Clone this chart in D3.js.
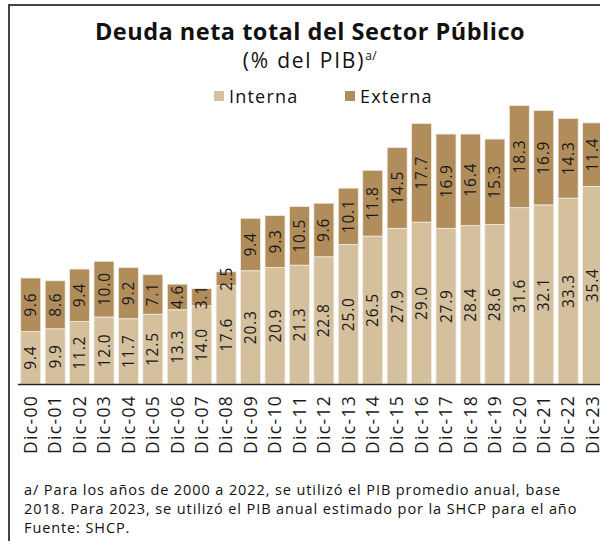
<!DOCTYPE html>
<html>
<head>
<meta charset="utf-8">
<script src="https://cdn.jsdelivr.net/npm/d3@7"></script>
<style>
  html, body { margin: 0; padding: 0; background: #fff; }
  svg { display: block; font-family: "Open Sans", "DejaVu Sans", sans-serif; }
</style>
</head>
<body>
<svg id="chart" width="600" height="541"></svg>
<script>
const categories = ["Dic-00","Dic-01","Dic-02","Dic-03","Dic-04","Dic-05","Dic-06","Dic-07","Dic-08","Dic-09","Dic-10","Dic-11","Dic-12","Dic-13","Dic-14","Dic-15","Dic-16","Dic-17","Dic-18","Dic-19","Dic-20","Dic-21","Dic-22","Dic-23"];
const interna = [9.4, 9.9, 11.2, 12.0, 11.7, 12.5, 13.3, 14.0, 17.6, 20.3, 20.9, 21.3, 22.8, 25.0, 26.5, 27.9, 29.0, 27.9, 28.4, 28.6, 31.6, 32.1, 33.3, 35.4];
const externa = [9.6, 8.6, 9.4, 10.0, 9.2, 7.1, 4.6, 3.1, 2.5, 9.4, 9.3, 10.5, 9.6, 10.1, 11.8, 14.5, 17.7, 16.9, 16.4, 15.3, 18.3, 16.9, 14.3, 11.4];
const seriesNames = ["Interna", "Externa"];
const seriesColors = ["#d4c09c", "#b28d5c"];
const title = "Deuda neta total del Sector Público";
const subtitle = "(% del PIB)";
const footnotes = [
  "a/ Para los años de 2000 a 2022, se utilizó el PIB promedio anual, base",
  "2018. Para 2023, se utilizó el PIB anual estimado por la SHCP para el año",
  "Fuente: SHCP."
];

const svg = d3.select("#chart");

// frame
svg.append("path").attr("d", "M9,600 V5 H600")
  .attr("fill", "none").attr("stroke", "#444").attr("stroke-width", 2);

const x = d3.scaleBand().domain(categories).range([18.5, 604.8])
  .paddingInner(0.18).paddingOuter(0.09);
const y = d3.scaleLinear().domain([0, 50]).range([384, 105]);

const rows = categories.map((c, i) => ({ cat: c, vals: [interna[i], externa[i]] }));
const stack = d3.stack().keys([0, 1]).value((d, k) => d.vals[k]);
const stacked = stack(rows);

const g = svg.append("g");
stacked.forEach((layer, k) => {
  g.append("g").selectAll("rect").data(layer).join("rect")
    .attr("x", d => x(d.data.cat))
    .attr("width", x.bandwidth())
    .attr("y", d => y(d[1]))
    .attr("height", d => y(d[0]) - y(d[1]))
    .attr("fill", seriesColors[k])
    .attr("stroke", "#f3ede3").attr("stroke-width", 0.8);
  g.append("g").selectAll("text").data(layer).join("text")
    .attr("transform", d => `translate(${x(d.data.cat) + x.bandwidth() / 2 + 5.5},${(y(d[0]) + y(d[1])) / 2}) rotate(-90)`)
    .attr("text-anchor", "middle")
    .attr("font-size", 15.5)
    .attr("letter-spacing", 0.8)
    .attr("fill", "#1a1a1a")
    .text(d => d.data.vals[k].toFixed(1));
});

// x axis
const xAxis = svg.append("g").attr("transform", "translate(0,384)")
  .call(d3.axisBottom(x).tickSize(0).tickPadding(0));
xAxis.select(".domain").attr("d", "M18,0.5H600").attr("stroke", "#222").attr("stroke-width", 1.5);
xAxis.selectAll(".tick text")
  .attr("transform", "rotate(-90)")
  .attr("text-anchor", "end")
  .attr("x", -11).attr("y", 0).attr("dy", "0.36em")
  .attr("font-size", 17.5).attr("letter-spacing", 1.3).attr("fill", "#1a1a1a")
  .attr("font-family", "\"Open Sans\", sans-serif");

// title
svg.append("text").attr("x", 310).attr("y", 40).attr("text-anchor", "middle")
  .attr("font-size", 23.5).attr("font-weight", "bold").attr("letter-spacing", 0.5).attr("fill", "#111")
  .text(title);
const sub = svg.append("text").attr("x", 310).attr("y", 68).attr("text-anchor", "middle")
  .attr("font-size", 21).attr("letter-spacing", 1.8).attr("fill", "#111");
sub.append("tspan").text(subtitle);
sub.append("tspan").attr("font-size", 12).attr("letter-spacing", 0.5).attr("dy", -8).text("a/");

// legend
const legendX = [214, 345];
seriesNames.forEach((name, k) => {
  svg.append("rect").attr("x", legendX[k]).attr("y", 91).attr("width", 10).attr("height", 10)
    .attr("fill", seriesColors[k]);
  svg.append("text").attr("x", legendX[k] + 15).attr("y", 103)
    .attr("font-size", 18).attr("letter-spacing", 1.2).attr("fill", "#111").text(name);
});

// footnotes
footnotes.forEach((t, i) => {
  svg.append("text").attr("x", 24).attr("y", 495 + i * 19)
    .attr("font-size", 14.5).attr("letter-spacing", 0.9).attr("fill", "#111").text(t);
});
</script>
</body>
</html>
